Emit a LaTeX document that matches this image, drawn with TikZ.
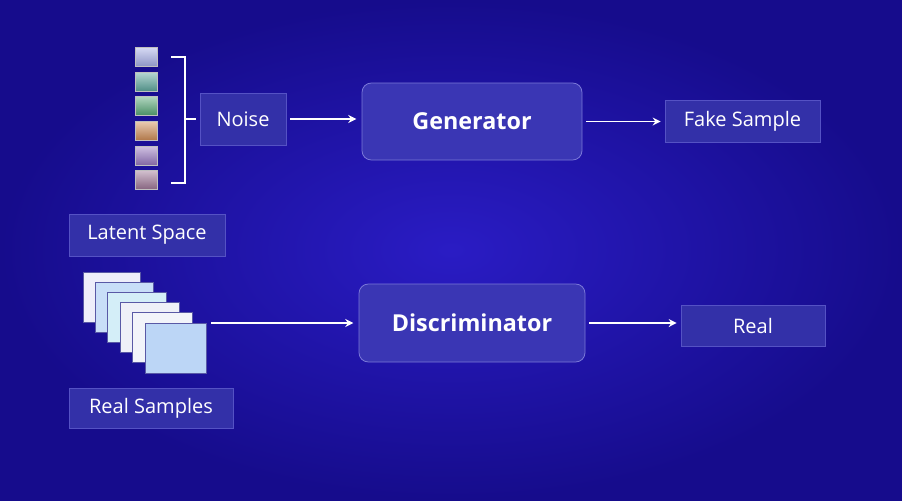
\documentclass[tikz,border=0pt]{standalone}
\usepackage{fontspec}
\setmainfont{Open Sans}
\usetikzlibrary{arrows.meta}
\definecolor{bgc}{HTML}{2A1CC4}
\definecolor{bge}{HTML}{160C8C}
\definecolor{boxf}{HTML}{3330A8}
\definecolor{boxd}{HTML}{5552C4}
\definecolor{genf}{HTML}{3A36B4}
\definecolor{gend}{HTML}{7A78D8}
\tikzset{
  lbl/.style={draw=boxd, fill=boxf, line width=0.5pt, text=white, font=\fontsize{15}{17}\selectfont, inner sep=0pt},
  core/.style={draw=gend, fill=genf, line width=0.6pt, rounded corners=7pt, text=white, font=\bfseries\fontsize{17.5}{20}\selectfont, inner sep=0pt},
  arr/.style={draw=white, line width=1.2pt, -{Stealth[length=6pt,width=6pt]}},
  pg/.style={draw=gray!70!blue, line width=0.6pt}
}
\begin{document}
\begin{tikzpicture}[x=0.75pt,y=-0.75pt]
\useasboundingbox (0,0) rectangle (902,500);
\shade[inner color=bgc, outer color=bge] (0,0) rectangle (902,500);
% squares
\foreach \y/\c in {47/A8B0E8, 72/5FA89E, 96/58A878, 121/D08E58, 146/9878C0, 170/A07898}{
  \definecolor{tmp}{HTML}{\c}
  \shade[top color=tmp!45!white, bottom color=tmp!85!black, draw=white!50!gray, line width=0.4pt] (135,\y) rectangle (157,\y+19);
}
% bracket
\coordinate (bt) at (171,57);
\coordinate (bb) at (171,183);
\draw[white, line width=1.5pt] (bt) -- (185,57) -- (185,183) -- (bb);
\coordinate (bm) at (185,119);
\coordinate (bmend) at (196,119);
\draw[white, line width=1.5pt] (bm) -- (bmend);
% nodes
\node[lbl, minimum width=86*0.75pt, minimum height=52*0.75pt] (noise) at (243,119) {Noise};
\node[core, minimum width=220*0.75pt, minimum height=77*0.75pt] (gen) at (472,121.5) {Generator};
\node[lbl, minimum width=155*0.75pt, minimum height=42*0.75pt] (fake) at (742.5,121) {Fake Sample};
\node[lbl, minimum width=156*0.75pt, minimum height=42*0.75pt] (latent) at (147,235) {Latent Space};
\node[core, minimum width=226*0.75pt, minimum height=78*0.75pt] (disc) at (472,323) {Discriminator};
\node[lbl, minimum width=144*0.75pt, minimum height=41*0.75pt] (real) at (753,325.5) {Real};
\node[lbl, minimum width=164*0.75pt, minimum height=40*0.75pt] (rs) at (151,408) {Real Samples};
% pages
\foreach \i/\c in {0/EEEEFA, 1/C8DEF8, 2/D4EEF8, 3/EEF0F8, 4/F2F4FA, 5/BCD6F6}{
  \definecolor{pgc}{HTML}{\c}
  \filldraw[fill=pgc, pg] ({83+12.4*\i},{272+10.2*\i}) rectangle ({140+13.2*\i},{322+10.2*\i});
}
\coordinate (pages) at (211,323);
% arrows
\draw[arr] ([xshift=3]noise.east) -- ([xshift=-4]noise.east -| gen.west);
\draw[arr] ([xshift=3]gen.east) -- ([xshift=-3]gen.east -| fake.west);
\draw[arr] (pages) -- ([xshift=-4]pages -| disc.west);
\draw[arr] ([xshift=3]disc.east) -- ([xshift=-3]disc.east -| real.west);
\end{tikzpicture}
\end{document}
